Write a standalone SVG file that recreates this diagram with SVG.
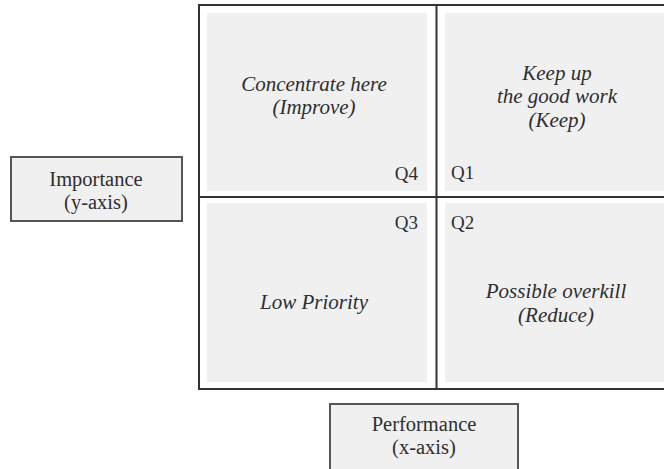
<svg xmlns="http://www.w3.org/2000/svg" width="664" height="469" viewBox="0 0 664 469">
<style>
.panel{fill:#f0f0f1;stroke:none}
.grid{stroke:#333;stroke-width:2;fill:none}
.box{fill:#f0f0f1;stroke:#555;stroke-width:2}
.it{font-family:'Liberation Serif','Times New Roman',serif;font-style:italic;font-size:21px;fill:#2e2e2e;text-anchor:middle}
.rm{font-family:'Liberation Serif','Times New Roman',serif;font-size:20.5px;fill:#2e2e2e;text-anchor:middle}
.q{font-family:'Liberation Serif','Times New Roman',serif;font-size:19px;fill:#2e2e2e}
</style>
<rect width="664" height="469" fill="#fff"/>
<g id="q4">
<rect class="panel" x="207" y="13" width="220" height="178"/>
<text class="it" x="314" y="91">Concentrate here</text>
<text class="it" x="314" y="114">(Improve)</text>
<text class="q" x="418" y="180" text-anchor="end">Q4</text>
</g>
<g id="q1">
<rect class="panel" x="445" y="13" width="230" height="178"/>
<text class="it" x="557" y="80">Keep up</text>
<text class="it" x="557" y="103">the good work</text>
<text class="it" x="557" y="127">(Keep)</text>
<text class="q" x="451" y="179">Q1</text>
</g>
<g id="q3">
<rect class="panel" x="207" y="203" width="220" height="179"/>
<text class="q" x="418" y="229" text-anchor="end">Q3</text>
<text class="it" x="314" y="309">Low Priority</text>
</g>
<g id="q2">
<rect class="panel" x="445" y="203" width="230" height="179"/>
<text class="q" x="451" y="229">Q2</text>
<text class="it" x="556" y="298">Possible overkill</text>
<text class="it" x="556" y="322">(Reduce)</text>
</g>
<g id="connectors">
<rect class="grid" x="199" y="5" width="480" height="384"/>
<line class="grid" x1="436.5" y1="5" x2="436.5" y2="389"/>
<line class="grid" x1="199" y1="197" x2="679" y2="197"/>
</g>
<g id="importance">
<rect class="box" x="11" y="157" width="171" height="64"/>
<text class="rm" x="96" y="186">Importance</text>
<text class="rm" x="96" y="209">(y-axis)</text>
</g>
<g id="performance">
<rect class="box" x="330" y="404" width="188" height="75"/>
<text class="rm" x="424" y="431">Performance</text>
<text class="rm" x="424" y="454">(x-axis)</text>
</g>
</svg>
